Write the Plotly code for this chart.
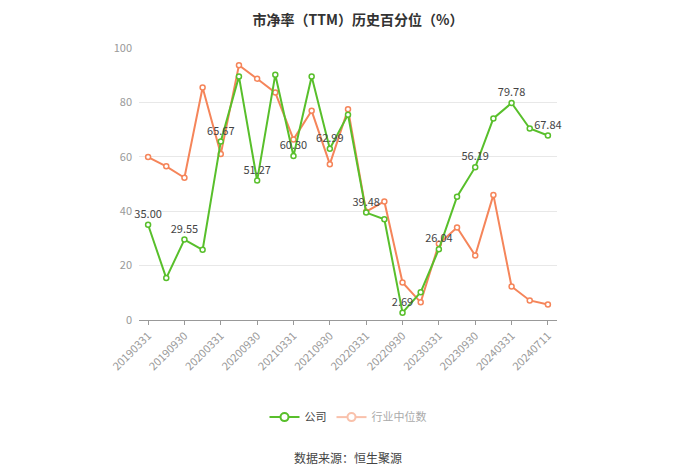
import plotly.graph_objects as go

dates = ["20190331", "20190630", "20190930", "20191231",
         "20200331", "20200630", "20200930", "20201231",
         "20210331", "20210630", "20210930", "20211231",
         "20220331", "20220630", "20220930", "20221231",
         "20230331", "20230630", "20230930", "20231231",
         "20240331", "20240630", "20240711"]
company = [35.00, 15.4, 29.55, 25.8, 65.67, 89.5, 51.27, 90.2, 60.30, 89.5,
           62.99, 75.5, 39.48, 37.0, 2.69, 10.2, 26.04, 45.3, 56.19, 74.1,
           79.78, 70.4, 67.84]
industry = [59.9, 56.5, 52.3, 85.5, 61.0, 93.7, 88.7, 83.6, 66.4, 76.9,
            57.3, 77.5, 39.8, 43.6, 13.8, 6.5, 28.0, 34.0, 23.7, 46.0,
            12.3, 7.2, 5.7]

green = "#58BF2B"
orange = "#F5855A"
font = "Noto Sans CJK SC"

# label every other point of the company line
labels = [f"{v:.2f}" if i % 2 == 0 else "" for i, v in enumerate(company)]

fig = go.Figure()
fig.add_trace(go.Scatter(
    x=dates, y=industry, mode="lines+markers", showlegend=False,
    line=dict(color=orange, width=2),
    marker=dict(symbol="circle", size=5, color="white",
                line=dict(color=orange, width=1.5)),
))
fig.add_trace(go.Scatter(
    x=dates, y=company, mode="lines+markers+text", showlegend=False,
    text=labels, textposition="top center", cliponaxis=False,
    textfont=dict(color="#444", size=11, family=font),
    line=dict(color=green, width=2),
    marker=dict(symbol="circle", size=5, color="white",
                line=dict(color=green, width=1.5)),
))
# legend entries
fig.add_trace(go.Scatter(
    x=[None], y=[None], mode="lines+markers", name="公司",
    line=dict(color=green, width=2),
    marker=dict(size=8, color="white", line=dict(color=green, width=2)),
))
fig.add_trace(go.Scatter(
    x=[None], y=[None], mode="lines+markers",
    name="<span style='color:#aaa'>行业中位数</span>",
    opacity=0.5,
    line=dict(color=orange, width=2),
    marker=dict(size=8, color="white", line=dict(color=orange, width=2)),
))

# page body adds an 8px offset, margins compensate for it
fig.update_layout(
    width=700, height=474,
    margin=dict(l=131, r=151, t=40, b=162),
    paper_bgcolor="white", plot_bgcolor="white",
    font=dict(family=font, color="#999", size=11),
    title=dict(text="<b>市净率（TTM）历史百分位（%）</b>", x=0.5, xanchor="center",
               y=0.984, yanchor="top", pad=dict(t=0),
               font=dict(size=14, color="#333", family=font)),
    legend=dict(orientation="h", x=0.5, xanchor="center", y=-0.357,
                yanchor="middle", font=dict(size=11, color="#444"),
                itemwidth=30),
    annotations=[dict(text="数据来源：恒生聚源", x=0.5, xref="paper",
                      y=-0.504, yref="paper", yanchor="middle",
                      showarrow=False,
                      font=dict(size=12, color="#444", family=font))],
)
fig.update_xaxes(
    type="category", range=[-0.5, 22.5], dtick=2, tickangle=-45,
    showgrid=False, showline=True, linecolor="#999", linewidth=1,
    ticks="outside", ticklen=4, tickcolor="#999",
    tickfont=dict(size=11, color="#999"),
)
fig.update_yaxes(
    range=[0, 100], dtick=20, showgrid=True, gridcolor="#e8e8e8",
    zeroline=False, showline=False, tickfont=dict(size=11, color="#999"),
    ticklabelstandoff=6,
)

fig.write_html("out.html")
